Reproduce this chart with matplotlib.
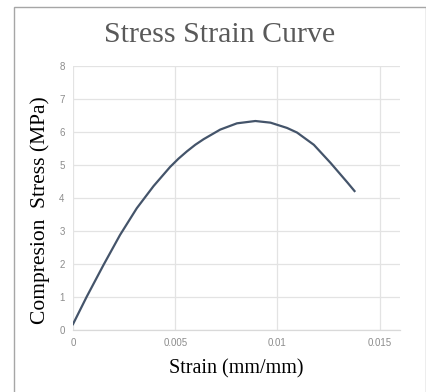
"""Stress strain curve (compression test)."""
import matplotlib as mpl
mpl.use("Agg")
import matplotlib.pyplot as plt
from matplotlib.patches import Rectangle

mpl.rcParams.update({
    "font.family": "serif",
    "font.serif": ["Liberation Serif", "Times New Roman", "DejaVu Serif"],
})

# ── Data ──
strain = [0.0, 0.00067, 0.00149, 0.0023, 0.00312, 0.00394, 0.00475, 0.00516,
          0.00557, 0.00598, 0.00639, 0.0072, 0.00802, 0.00892, 0.00966,
          0.01047, 0.01096, 0.01178, 0.0126, 0.01342, 0.01377]
stress = [0.18, 1.01, 1.97, 2.88, 3.69, 4.36, 4.94, 5.19,
          5.41, 5.61, 5.78, 6.07, 6.26, 6.33, 6.28,
          6.12, 5.98, 5.61, 5.06, 4.47, 4.21]
x_ticks = [0, 0.005, 0.01, 0.015]
x_ticklabels = ["0", "0.005", "0.01", "0.015"]
y_ticks = list(range(0, 9))

LINE = "#44546A"
GRID = "#E3E3E3"
TICK = "#8C8C8C"

fig = plt.figure(figsize=(4.27, 3.92), dpi=100)
ax = fig.add_axes([0.171, 0.158, 0.766, 0.674])

# chart border (Excel style frame)
fig.patches.append(Rectangle((14 / 427, -0.05), (426 - 14) / 427, 1.05 - 7 / 392,
                             transform=fig.transFigure, fill=False,
                             edgecolor="#A6A6A6", linewidth=1.0))

ax.plot(strain, stress, color=LINE, linewidth=1.6, solid_joinstyle="round")

ax.set_xlim(0, 0.016)
ax.set_ylim(0, 8)
ax.set_xticks(x_ticks)
ax.set_xticklabels(x_ticklabels)
ax.set_yticks(y_ticks)
ax.grid(True, color=GRID, linewidth=0.9)
ax.set_axisbelow(True)
for s in ["top", "right", "left"]:
    ax.spines[s].set_visible(False)
ax.spines["bottom"].set_color("#D9D9D9")
ax.spines["bottom"].set_linewidth(0.9)
ax.tick_params(length=0, labelsize=7, labelcolor=TICK, pad=6)
for lbl in ax.get_xticklabels() + ax.get_yticklabels():
    lbl.set_family(["Liberation Sans", "DejaVu Sans"])

ax.set_xlabel("Strain (mm/mm)", fontsize=14.5, va="center")
ax.xaxis.set_label_coords(0.5, -0.145)
ax.set_ylabel("Compresion  Stress (MPa)", fontsize=15.5, va="center")
ax.yaxis.set_label_coords(-0.1, 0.453)

fig.text(220 / 427, 1 - 35 / 392, "Stress Strain Curve", fontsize=21.5,
         color="#595959", ha="center", va="center")

fig.savefig("out.png", dpi=100, facecolor="white")
